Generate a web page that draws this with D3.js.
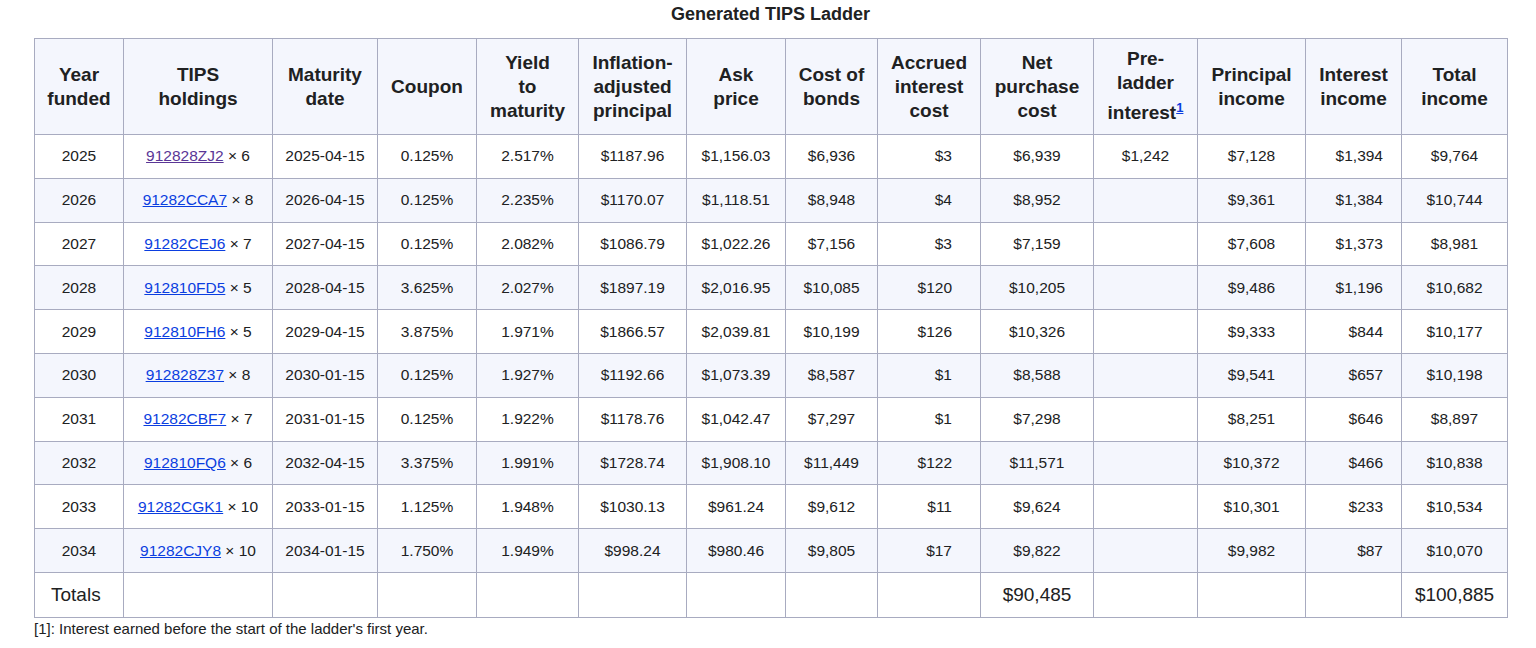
<!DOCTYPE html>
<html><head><meta charset="utf-8">
<script src="https://cdn.jsdelivr.net/npm/d3@7"></script>
<style>
body{margin:0;font-family:"Liberation Sans",Arial,sans-serif;background:#fff;color:#202122}
#title{position:absolute;left:34px;width:1473px;top:4px;text-align:center;font-weight:bold;font-size:18px}
table{position:absolute;left:34px;top:38px;border-collapse:collapse;table-layout:fixed;width:1474px}
th,td{border:1.5px solid #a8abc0;padding:0 6px}
th{background:#f4f6fd;font-size:19px;height:95px;line-height:24px}
td{font-size:15.5px;height:42.8px;text-align:center}
tbody tr:nth-child(even) td{background:#f4f6fd}
tbody tr.tot td{background:#fff;font-size:19px;height:44px}
a{color:#0b3ee0;text-decoration:underline}
a.v{color:#5a3696}
sup a{font-size:13px}
#foot{position:absolute;left:34px;top:620px;font-size:15px}
</style></head><body>
<div id="title">Generated TIPS Ladder</div>
<div id="chart"></div>
<div id="foot">[1]: Interest earned before the start of the ladder's first year.</div>
<script>
var headers = ["Year funded","TIPS holdings","Maturity date","Coupon","Yield to maturity","Inflation-adjusted principal","Ask price","Cost of bonds","Accrued interest cost","Net purchase cost","Pre-ladder interest","Principal income","Interest income","Total income"];
var headerLines = ["Year<br>funded","TIPS<br>holdings","Maturity<br>date","Coupon","Yield<br>to<br>maturity","Inflation-<br>adjusted<br>principal","Ask<br>price","Cost of<br>bonds","Accrued<br>interest<br>cost","Net<br>purchase<br>cost","Pre-<br>ladder<br>interest","Principal<br>income","Interest<br>income","Total<br>income"];
var years = ["2025","2026","2027","2028","2029","2030","2031","2032","2033","2034"];
var cusips = ["912828ZJ2","91282CCA7","91282CEJ6","912810FD5","912810FH6","912828Z37","91282CBF7","912810FQ6","91282CGK1","91282CJY8"];
var quantities = [6,8,7,5,5,8,7,6,10,10];
var maturities = ["2025-04-15","2026-04-15","2027-04-15","2028-04-15","2029-04-15","2030-01-15","2031-01-15","2032-04-15","2033-01-15","2034-01-15"];
var coupons = ["0.125%","0.125%","0.125%","3.625%","3.875%","0.125%","0.125%","3.375%","1.125%","1.750%"];
var yields = ["2.517%","2.235%","2.082%","2.027%","1.971%","1.927%","1.922%","1.991%","1.948%","1.949%"];
var principals = ["$1187.96","$1170.07","$1086.79","$1897.19","$1866.57","$1192.66","$1178.76","$1728.74","$1030.13","$998.24"];
var askPrices = ["$1,156.03","$1,118.51","$1,022.26","$2,016.95","$2,039.81","$1,073.39","$1,042.47","$1,908.10","$961.24","$980.46"];
var costs = ["$6,936","$8,948","$7,156","$10,085","$10,199","$8,587","$7,297","$11,449","$9,612","$9,805"];
var accrued = ["$3","$4","$3","$120","$126","$1","$1","$122","$11","$17"];
var netCosts = ["$6,939","$8,952","$7,159","$10,205","$10,326","$8,588","$7,298","$11,571","$9,624","$9,822"];
var preLadder = ["$1,242","","","","","","","","",""];
var principalIncome = ["$7,128","$9,361","$7,608","$9,486","$9,333","$9,541","$8,251","$10,372","$10,301","$9,982"];
var interestIncome = ["$1,394","$1,384","$1,373","$1,196","$844","$657","$646","$466","$233","$87"];
var totalIncome = ["$9,764","$10,744","$8,981","$10,682","$10,177","$10,198","$8,897","$10,838","$10,534","$10,070"];
var totals = ["Totals","","","","","","","","","$90,485","","","","$100,885"];

var colWidths = [89,149,105,99,102,108,99,92,103,113,104,108,96,106];
var alignRight = {8:true, 12:true};

var table = d3.select("#chart").append("table");
table.append("colgroup").selectAll("col").data(colWidths).enter().append("col").style("width", function(d){return d+"px";});
table.append("thead").append("tr").selectAll("th").data(headers).enter().append("th")
  .each(function(d,i){
    var th = d3.select(this).html(headerLines[i]);
    if (i === 10) th.append("sup").append("a").text("1");
  });
var tbody = table.append("tbody");
years.forEach(function(y, r){
  var cells = [y, null, maturities[r], coupons[r], yields[r], principals[r], askPrices[r], costs[r], accrued[r], netCosts[r], preLadder[r], principalIncome[r], interestIncome[r], totalIncome[r]];
  var tr = tbody.append("tr");
  cells.forEach(function(c, i){
    var td = tr.append("td");
    if (alignRight[i]) td.style("text-align","right").style("padding-right", i===8 ? "28px" : "18px");
    if (i === 1) {
      td.append("a").attr("class", r===0 ? "v" : null).text(cusips[r]);
      td.append("span").text(" × " + quantities[r]);
    } else td.text(c);
  });
});
var tt = tbody.append("tr").attr("class","tot");
tt.selectAll("td").data(totals).enter().append("td").text(function(d){return d;})
  .style("text-align", function(d,i){return i===0 ? "left" : "center";})
  .style("padding-left", function(d,i){return i===0 ? "16px" : null;});
</script>
</body></html>
